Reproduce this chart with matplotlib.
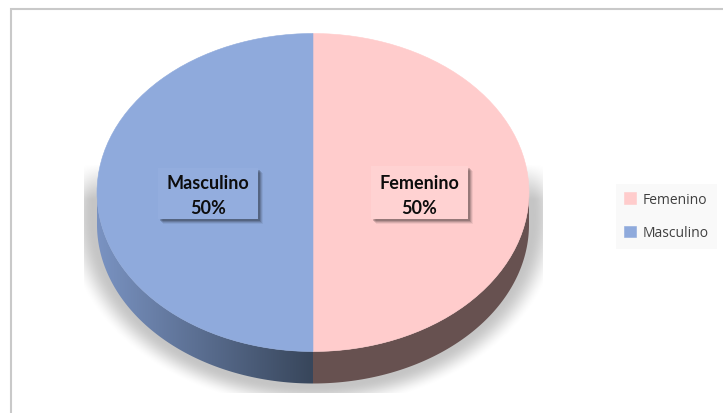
import numpy as np
import matplotlib
matplotlib.use('Agg')
import matplotlib.pyplot as plt
from matplotlib.patches import Rectangle, Polygon

# datos
categorias = ['Femenino', 'Masculino']
valores = [50, 50]
colores = ['#ffcccc', '#8faadc']
color_lado_fem = '#675150'
color_lado_masc_izq = '#7a93c2'
color_lado_masc_der = '#38465b'

W, H = 723, 414
CX, CY = 313, 193.5  # centro del pastel en pixeles
RX, RY = 216, 159
PROF = 32 / RY


def px(x):
    return (x - CX) / RX


def py(y):
    return (CY - y) / RY


fig = plt.figure(figsize=(W / 100, H / 100), dpi=100)
ax = fig.add_axes([0, 0, 1, 1])

# sombra difusa bajo el pastel, recortada a su caja
col = np.arange(84, 543) + 0.5
fil = np.arange(160, 394) + 0.5
xx, yy = np.meshgrid(col, fil)
d = np.sqrt(((xx - 313) / 230) ** 2 + ((yy - 216) / 179) ** 2)
alfa = np.clip((1.085 - d) / 0.13, 0, 1)
alfa = alfa * alfa * (3 - 2 * alfa) * 0.23
alfa = alfa * np.clip((yy - 165) / 35, 0, 1)
sombra = np.zeros(xx.shape + (4,))
sombra[..., 3] = alfa
ax.imshow(sombra, extent=(px(84), px(543), py(394), py(160)), origin='upper',
          aspect='auto', zorder=1, interpolation='bilinear')

# pared lateral: se calcula a partir de los angulos de cada porcion
t = np.linspace(np.pi, 2 * np.pi, 200)
borde_x, borde_y = np.cos(t), np.sin(t)
pared = np.r_[np.c_[borde_x, borde_y], np.c_[borde_x[::-1], borde_y[::-1] - PROF]]
clip = Polygon(pared, closed=True, transform=ax.transData, fc='none', ec='none')
ax.add_patch(clip)

c1 = np.array(matplotlib.colors.to_rgb(color_lado_masc_izq))
c2 = np.array(matplotlib.colors.to_rgb(color_lado_masc_der))
f = np.linspace(0, 1, 256)[None, :, None]
grad = (1 - f) * c1 + f * c2
im = ax.imshow(grad, extent=(-1, 0, -1 - PROF, 0), aspect='auto', zorder=2)
im.set_clip_path(clip)
der = ax.add_patch(Rectangle((0, -1 - PROF), 1, 1 + PROF, fc=color_lado_fem, ec='none', zorder=2))
der.set_clip_path(clip)

# tapa del pastel
wedges, _ = ax.pie(valores, colors=colores, startangle=90, counterclock=False,
                   radius=1, wedgeprops={'zorder': 3, 'linewidth': 0.4})
for w in wedges:
    w.set_zorder(3)
    w.set_edgecolor(w.get_facecolor())

ax.set_aspect('auto')
ax.set_xlim(px(0), px(W))
ax.set_ylim(py(H), py(0))
ax.axis('off')


# etiquetas con caja y sombra
def etiqueta(x0, y0, x1, y1, nombre, valor, color):
    for i, a in zip([5, 4, 3, 2], [0.06, 0.1, 0.14, 0.18]):
        ax.add_patch(Rectangle((px(x0 + i), py(y1 + i)), (x1 - x0) / RX, (y1 - y0) / RY,
                               fc='black', ec='none', alpha=a, zorder=4))
    ax.add_patch(Rectangle((px(x0), py(y1)), (x1 - x0) / RX, (y1 - y0) / RY,
                           fc=color, ec='none', zorder=5))
    ax.text(px((x0 + x1) / 2), py(196), f'{nombre}\n{valor}%', ha='center', va='center',
            fontsize=13, fontweight='bold', family='Lato', color='#0d0d0d',
            linespacing=1.6, zorder=6)


etiqueta(371, 167, 468, 220, categorias[0], valores[0], '#ffd2d2')
etiqueta(158, 169, 258, 220, categorias[1], valores[1], '#93adde')

# marco exterior
ax.plot([px(10.5), px(10.5), px(723)], [py(414), py(9.5), py(9.5)], color='#c9c9c9', lw=1.5,
        zorder=0, solid_joinstyle='miter')

# leyenda
leg = ax.legend(wedges, categorias, loc='upper left', bbox_to_anchor=(616 / W, 1 - 184.5 / H),
                frameon=True, facecolor='#f9f9f9', edgecolor='none', fancybox=False,
                framealpha=1, borderaxespad=0, handlelength=0.85, handleheight=0.85,
                handletextpad=0.45, labelspacing=1.33, borderpad=0.6,
                prop={'family': 'Open Sans', 'size': 10}, labelcolor='#404040')

fig.savefig('out.png', dpi=100)
